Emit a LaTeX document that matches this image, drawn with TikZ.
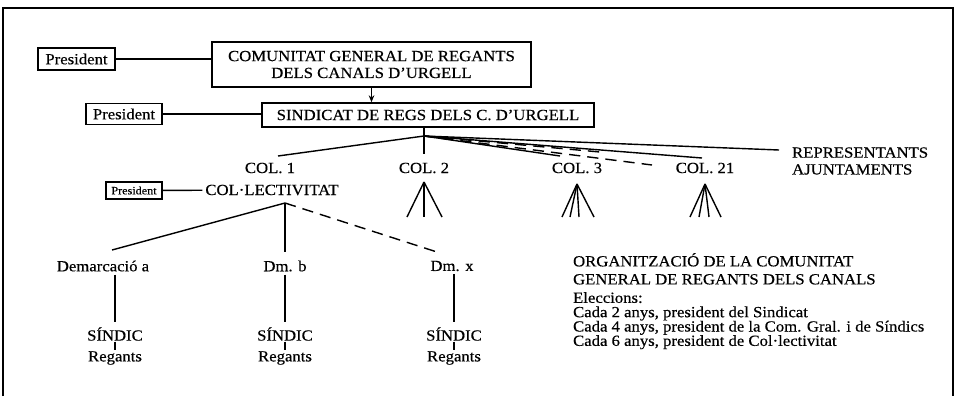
\documentclass[tikz,border=0pt]{standalone}
\usepackage{fontspec}
\setmainfont{Liberation Serif}[FakeStretch=1.08,FakeBold=0.4]
\usetikzlibrary{arrows.meta}

\begin{document}
\begin{tikzpicture}[x=0.025cm,y=-0.025cm,>={Stealth[length=5pt,width=4pt]},
  every node/.style={inner sep=2pt,font=\fontsize{11}{12}\selectfont},
  box/.style={draw,line width=1pt},
  link/.style={line width=1pt},
  dashlink/.style={line width=1pt,dash pattern=on 8pt off 5pt},
  tight/.style={inner sep=0.5pt}]

\useasboundingbox (0,0) rectangle (957,396);
\draw [line width=1.6pt] (3,396) -- (3,8) -- (953,8) -- (953,396);

% top of the organisation
\node [box,align=center,minimum width=7.98cm,minimum height=1.13cm] at (371.5,64.5) (comunitat) {COMUNITAT GENERAL DE REGANTS\\DELS CANALS D'URGELL};
\node [box,minimum width=8.3cm,minimum height=0.6cm] at (428,115) (sindicat) {SINDICAT DE REGS DELS C. D'URGELL};
\node [box,minimum width=1.93cm,minimum height=0.55cm] at (76.5,59) (pres1) {President};
\node [box,minimum width=1.9cm,minimum height=0.53cm] at (124,114) (pres2) {President};

\draw [link] (pres1) -- (pres1 -| comunitat.west);
\draw [link] (pres2) -- (pres2 -| sindicat.west);
\draw [link,->] (comunitat.south) -- (comunitat.south |- sindicat.north);

% col·lectivitats
\node at (270,168) (col1) {COL. 1};
\node at (424,168) (col2) {COL. 2};
\node at (577,168) (col3) {COL. 3};
\node at (705,168) (col21) {COL. 21};
\node [align=left,anchor=west] at (789,161) (repres) {REPRESENTANTS\\AJUNTAMENTS};

\coordinate (v) at (424,136);
\coordinate (c1end) at (278,156);
\coordinate (c3end) at (560,156);
\coordinate (dash1end) at (600,152);
\coordinate (dash2end) at (652,165);
\coordinate (c21end) at (702,158);
\coordinate (repend) at (779,150);

\draw [link,shorten >=4pt] (v |- sindicat.south) -- (col2);
\draw [link] (v) -- (c1end);
\draw [link] (v) -- (c3end);
\draw [dashlink] (v) -- (dash1end);
\draw [dashlink] (v) -- (dash2end);
\draw [link] (v) -- (c21end);
\draw [link] (v) -- (repend);

% fans below the other col·lectivitats
\coordinate (f2) at (424,182);
\coordinate (f2a) at (407,217);
\coordinate (f2b) at (424,217);
\coordinate (f2c) at (442,217);
\coordinate (f3) at (577,184);
\coordinate (f3a) at (562,217);
\coordinate (f3b) at (570,217);
\coordinate (f3c) at (579,217);
\coordinate (f3d) at (594,217);
\coordinate (f21) at (705,184);
\coordinate (f21a) at (690,217);
\coordinate (f21b) at (699,217);
\coordinate (f21c) at (709,217);
\coordinate (f21d) at (721,217);

\path [link] (f2) edge (f2a) edge (f2b) edge (f2c);
\path [link] (f3) edge (f3a) edge (f3b) edge (f3c) edge (f3d);
\path [link] (f21) edge (f21a) edge (f21b) edge (f21c) edge (f21d);

% col·lectivitat 1 and its demarcacions
\node at (272,190) (colect) {COL·LECTIVITAT};
\node [box,minimum width=1.4cm,minimum height=0.43cm,font=\fontsize{8}{9}\selectfont] at (134,190.5) (pres3) {President};
\draw [link] (pres3) -- (colect);

\coordinate (cv) at (285,203);
\coordinate (demend) at (112,250);
\coordinate (dmxend) at (437,252);

\node at (103,266) (dema) {Demarcació a};
\node at (285,266) (dmb) {Dm. b};
\node at (452,266) (dmx) {Dm. x};

\draw [link] (cv) -- (demend);
\draw [link,shorten >=4pt] (cv) -- (dmb);
\draw [dashlink] (cv) -- (dmxend);

\node [tight] at (115,334) (sindica) {SÍNDIC};
\node [tight] at (285,334) (sindicb) {SÍNDIC};
\node [tight] at (454,334) (sindicx) {SÍNDIC};
\node [tight] at (115,358) (regantsa) {Regants};
\node [tight] at (285,358) (regantsb) {Regants};
\node [tight] at (454,358) (regantsx) {Regants};

\draw [link,shorten >=3pt] (sindica |- dema.south) -- (sindica);
\draw [link,shorten >=3pt] (dmb) -- (sindicb);
\draw [link,shorten >=3pt] (sindicx |- dmx.south) -- (sindicx);
\draw [link] (sindica) -- (regantsa);
\draw [link] (sindicb) -- (regantsb);
\draw [link] (sindicx) -- (regantsx);

% legend
\node [anchor=north west,align=left,font=\fontsize{11}{12.8}\selectfont] at (570,250) (orgtitle) {ORGANITZACIÓ DE LA COMUNITAT\\GENERAL DE REGANTS DELS CANALS};
\node [anchor=north west,align=left,font=\fontsize{11}{10.2}\selectfont] at (570,289) (eleccions) {Eleccions:\\Cada 2 anys, president del Sindicat\\Cada 4 anys, president de la Com. Gral. i de Síndics\\Cada 6 anys, president de Col·lectivitat};

\end{tikzpicture}
\end{document}
